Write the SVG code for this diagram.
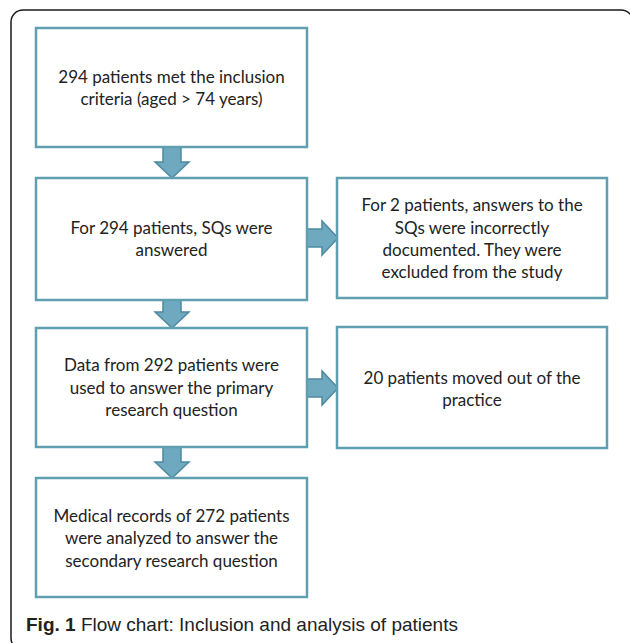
<svg xmlns="http://www.w3.org/2000/svg" width="630" height="643" viewBox="0 0 630 643">
<style>
.box{fill:#fff;stroke:#5f9fb0;stroke-width:2.5}
.arr{fill:#6ea9c0;stroke:#4d8aa0;stroke-width:1.5;stroke-linejoin:miter}
.t{font-family:Lato,"Liberation Sans",sans-serif;font-size:17px;fill:#222;text-anchor:middle}
.cap{font-family:"Liberation Sans",Arial,sans-serif;font-size:19px;fill:#222}
</style>
<rect x="0" y="0" width="630" height="643" fill="#fff"/>
<rect x="11" y="10" width="622" height="640" rx="12" ry="12" fill="none" stroke="#1a1a1a" stroke-width="1.5"/>
<g id="connectors">
<path class="arr" d="M163,147 H181 V162 H189 L172,178 L155,162 H163 Z"/>
<path class="arr" d="M163,300 H181 V312 H189 L172,328 L155,312 H163 Z"/>
<path class="arr" d="M163,447 H181 V462 H189 L172,478 L155,462 H163 Z"/>
<path class="arr" d="M307,229 H322 V221 L338,238 L322,255 V247 H307 Z"/>
<path class="arr" d="M307,379 H322 V371 L338,388 L322,405 V397 H307 Z"/>
</g>
<g id="n1">
<rect class="box" x="36" y="28" width="271" height="119"/>
<text class="t" x="171.5" y="83">294 patients met the inclusion</text>
<text class="t" x="171.5" y="105">criteria (aged &gt; 74 years)</text>
</g>
<g id="n2">
<rect class="box" x="36" y="178" width="271" height="122"/>
<text class="t" x="171.5" y="234">For 294 patients, SQs were</text>
<text class="t" x="171.5" y="256">answered</text>
</g>
<g id="n3">
<rect class="box" x="36" y="328" width="271" height="119"/>
<text class="t" x="171.5" y="371">Data from 292 patients were</text>
<text class="t" x="171.5" y="393.5">used to answer the primary</text>
<text class="t" x="171.5" y="416">research question</text>
</g>
<g id="n4">
<rect class="box" x="36" y="478" width="271" height="119"/>
<text class="t" x="171.5" y="522">Medical records of 272 patients</text>
<text class="t" x="171.5" y="544">were analyzed to answer the</text>
<text class="t" x="171.5" y="567">secondary research question</text>
</g>
<g id="n5">
<rect class="box" x="337" y="178" width="270" height="120"/>
<text class="t" x="472" y="211">For 2 patients, answers to the</text>
<text class="t" x="472" y="233.5">SQs were incorrectly</text>
<text class="t" x="472" y="255.5">documented. They were</text>
<text class="t" x="472" y="278">excluded from the study</text>
</g>
<g id="n6">
<rect class="box" x="337" y="327" width="270" height="121"/>
<text class="t" x="472" y="384">20 patients moved out of the</text>
<text class="t" x="472" y="406">practice</text>
</g>
<text class="cap" x="26" y="631"><tspan font-weight="bold">Fig. 1</tspan> Flow chart: Inclusion and analysis of patients</text>
</svg>
